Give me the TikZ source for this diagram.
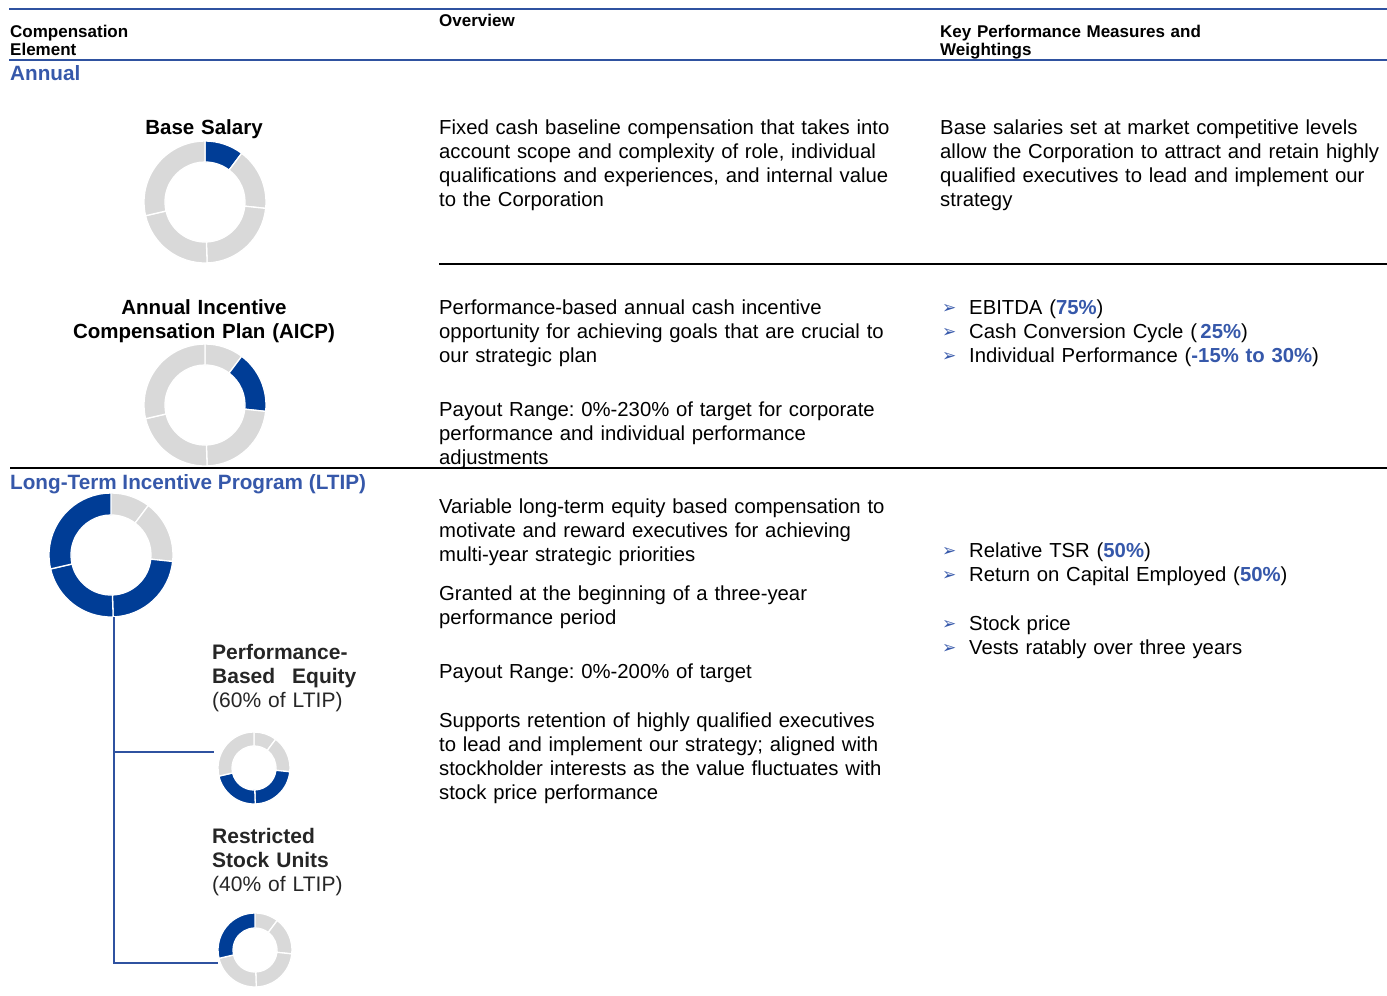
\documentclass[tikz,border=0pt]{standalone}
\usepackage{fontspec}
\setmainfont{Liberation Sans}
\newfontfamily\symfont{DejaVu Sans}
\usepackage{tikz}
\usetikzlibrary{positioning}
\frenchspacing

\definecolor{ltblue}{RGB}{54,88,170}
\definecolor{dblue}{RGB}{0,61,150}
\definecolor{lgray}{RGB}{217,217,217}
\definecolor{rulblue}{RGB}{47,82,160}

\newcommand{\blt}{\makebox[27pt][l]{\raisebox{0.5pt}{\symfont\fontsize{17}{17}\selectfont\color{ltblue}➢}}}
\newcommand{\pct}[1]{\textbf{\color{ltblue}#1}}
\newcommand{\donut}[5]{%
  \node[circle,minimum size=2*#2,inner sep=0pt] (#4) at #1 {};
  \begin{scope}[shift={#1},yscale=-1]
    \foreach \from/\to/\col in {#5}
      \filldraw[fill=\col,draw=white,line width=1.3pt] (\from:#2) arc[start angle=\from,end angle=\to,radius=#2]
        -- (\to:#3) arc[start angle=\to,end angle=\from,radius=#3] -- cycle;
  \end{scope}}

\begin{document}
\begin{tikzpicture}[x=1pt,y=-1pt,
    body/.style={anchor=base west,inner sep=0pt,text width=470pt,align=left,font=\fontsize{20.3}{24}\selectfont},
    head/.style={anchor=base west,inner sep=0pt,text width=320pt,align=left,font=\bfseries\fontsize{17}{18.5}\selectfont},
    section/.style={anchor=base west,inner sep=0pt,text=ltblue,font=\bfseries\fontsize{20.7}{24}\selectfont},
    label/.style={anchor=base,inner sep=0pt,text width=320pt,align=center,font=\bfseries\fontsize{20.5}{24}\selectfont},
    sublabel/.style={anchor=base west,inner sep=0pt,text width=200pt,align=left,text=black!85,font=\fontsize{21}{24}\selectfont},
    link/.style={draw=rulblue,line width=2pt}]

  \useasboundingbox[fill=white] (0,0) rectangle (1387,996);

  \draw[rulblue,line width=2pt] (9,9) -- (1387,9);
  \draw[rulblue,line width=2pt] (9,60) -- (1387,60);
  \draw[black,line width=2pt] (439,264) -- (1387,264);
  \draw[black,line width=2pt] (10,468) -- (1387,468);

  \node[head] (hcomp) at (10,37) {Compensation\\Element};
  \node[head] (hover) at (439,26) {Overview};
  \node[head] (hkey)  at (940,37) {Key Performance Measures and\\Weightings};

  \node[section] (annual) at (10,80) {Annual};
  \node[section] (ltip)   at (10,489) {Long-Term Incentive Program (LTIP)};

  \node[label] (lbase) at (204,134) {Base Salary};
  \node[label] (laicp) at (204,314) {Annual Incentive\\Compensation Plan (AICP)};
  \node[sublabel] (lperf) at (212,659) {\textbf{Performance-}\\\textbf{Based\hspace{10pt} Equity}\\(60\% of LTIP)};
  \node[sublabel] (lrsu)  at (212,843) {\textbf{Restricted}\\\textbf{Stock Units}\\(40\% of LTIP)};

  \node[body] (ovbase) at (439,134) {Fixed cash baseline compensation that takes into\\account scope and complexity of role, individual\\qualifications and experiences, and internal value\\to the Corporation};
  \node[body] (kmbase) at (940,134) {Base salaries set at market competitive levels\\allow the Corporation to attract and retain highly\\qualified executives to lead and implement our\\strategy};

  \node[body] (ovaicp) at (439,314) {Performance-based annual cash incentive\\opportunity for achieving goals that are crucial to\\our strategic plan};
  \node[body] (payaicp) at (439,416) {Payout Range: 0\%-230\% of target for corporate\\performance and individual performance\\adjustments};
  \node[body] (kmaicp) at (942,314) {\blt EBITDA (\pct{75\%})\\\blt Cash Conversion Cycle (\,\pct{25\%})\\\blt Individual Performance (\pct{-15\% to 30\%})};

  \node[body] (ovltip) at (439,513) {Variable long-term equity based compensation to\\motivate and reward executives for achieving\\multi-year strategic priorities};
  \node[body] (grant) at (439,600) {Granted at the beginning of a three-year\\performance period};
  \node[body] (payltip) at (439,678) {Payout Range: 0\%-200\% of target};
  \node[body] (retain) at (439,727) {Supports retention of highly qualified executives\\to lead and implement our strategy; aligned with\\stockholder interests as the value fluctuates with\\stock price performance};
  \node[body] (kmperf) at (942,557) {\blt Relative TSR (\pct{50\%})\\\blt Return on Capital Employed (\pct{50\%})};
  \node[body] (kmrsu) at (942,630) {\blt Stock price\\\blt Vests ratably over three years};

  \donut{(205,202)}{61}{40}{dbase}{90/53/dblue,53/-6/lgray,-6/-88/lgray,-88/-167/lgray,-167/-270/lgray}
  \donut{(205,405)}{61}{40}{daicp}{90/53/lgray,53/-6/dblue,-6/-88/lgray,-88/-167/lgray,-167/-270/lgray}
  \donut{(111,555)}{62}{40}{dltip}{90/53/lgray,53/-6/lgray,-6/-88/dblue,-88/-167/dblue,-167/-270/dblue}
  \donut{(254,768)}{36}{22}{dperf}{90/53/lgray,53/-6/lgray,-6/-88/dblue,-88/-167/dblue,-167/-270/lgray}
  \donut{(255,950)}{37}{22}{drsu}{90/53/lgray,53/-6/lgray,-6/-88/lgray,-88/-167/lgray,-167/-270/dblue}

  \draw[link] ([xshift=3pt]dltip.south) |- ([yshift=-13pt]drsu.west);
  \draw[link] ([xshift=3pt,yshift=16pt]dltip.south |- dperf.west) -- ([xshift=-4pt,yshift=16pt]dperf.west);

\end{tikzpicture}
\end{document}
